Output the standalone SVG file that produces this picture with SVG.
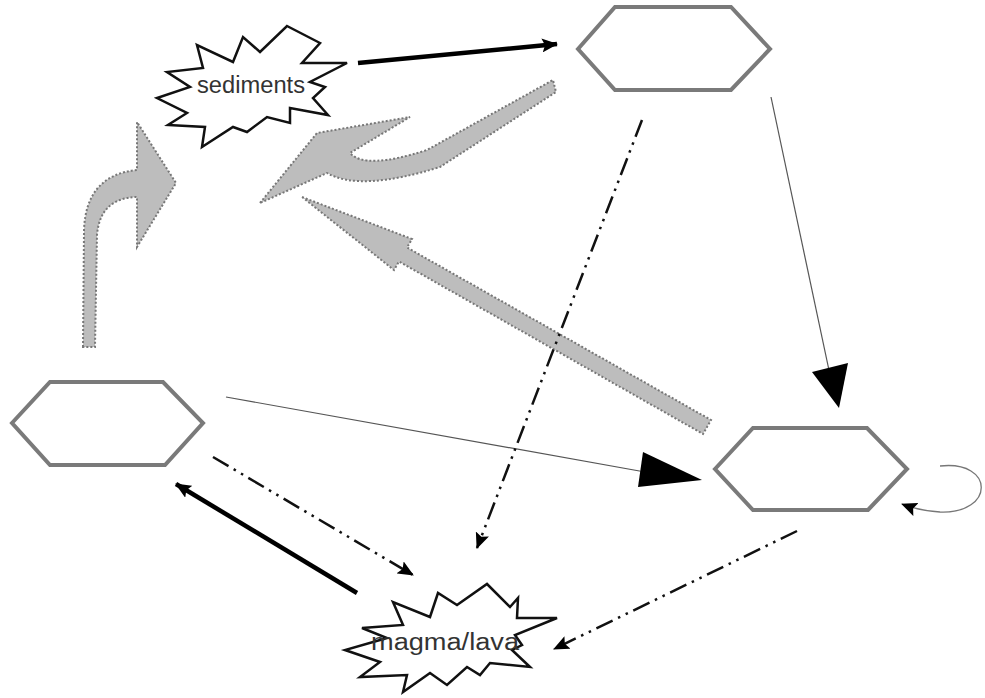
<svg xmlns="http://www.w3.org/2000/svg" width="985" height="698" viewBox="0 0 985 698">
<style>
.hex{fill:#fff;stroke:#7a7a7a;stroke-width:4;stroke-linejoin:miter}
.star{fill:#fff;stroke:#111;stroke-width:2.5;stroke-linejoin:miter}
.lbl{font-family:"Liberation Sans",Arial,sans-serif;font-size:23px;fill:#333;text-anchor:middle}
.thick{stroke:#000;stroke-width:4.5;fill:none}
.thin{stroke:#555;stroke-width:1.2;fill:none}
.dd{stroke:#111;stroke-width:2.5;fill:none;stroke-dasharray:18 6 2.5 6 2.5 6}
.block{fill:#bdbdbd;stroke:#777;stroke-width:2;stroke-dasharray:2 2}
.head{fill:#000}
</style>
<defs>
<marker id="ah" markerUnits="userSpaceOnUse" markerWidth="16" markerHeight="14" refX="15" refY="7" orient="auto"><path d="M0,0 L16,7 L0,14 L3,7 Z" fill="#000"/></marker>
</defs>
<g id="n-sediments">
<polygon class="star" points="287,26 320,43 302,63 347,63 310,82 325,87 313,98 328,115 290,108 290,123 267,117 247,132 233,127 202,147 205,127 168,125 187,113 157,98 190,87 167,72 203,68 197,45 233,62 243,37 260,52"/>
<text class="lbl" x="251" y="93" textLength="108" lengthAdjust="spacingAndGlyphs">sediments</text>
</g>
<g id="n-top">
<polygon class="hex" points="578,49 615,7 731,7 770,49 731,90 615,90"/>
</g>
<g id="n-left">
<polygon class="hex" points="12,423 50,382 163,382 203,423 165,465 50,465"/>
</g>
<g id="n-right">
<polygon class="hex" points="715,469 753,428 867,428 907,469 868,510 753,510"/>
</g>
<g id="n-magma">
<polygon class="star" points="487,584 510,607 518,598 517,618 557,618 515,635 522,645 512,650 530,667 490,663 480,675 467,667 447,685 430,673 403,692 407,675 360,677 380,662 345,650 387,638 362,628 403,625 393,602 430,617 438,593 457,605"/>
<text class="lbl" x="445" y="650" textLength="148" lengthAdjust="spacingAndGlyphs">magma/lava</text>
</g>
<g id="connectors">
<path class="block" d="M83,347 L84,230 Q86,175 137,170 L137,122 L176,183 L137,247 L137,197 Q100,198 97,235 L95,347 Z"/>
<path class="block" d="M260,203 L317,133 L410,117 L350,153 Q365,170 427,150 L553,80 L556,92 L440,167 Q360,192 327,173 Z"/>
<path class="block" d="M302,197 L412,239 L407,247.5 L711,420 L703,434 L399,261.5 L394,270 Z"/>
<line class="thick" x1="358" y1="63" x2="557" y2="44" marker-end="url(#ah)"/>
<line class="thin" x1="771" y1="97" x2="830" y2="375"/>
<polygon class="head" points="812,372 848,363 839,408"/>
<line class="thin" x1="226" y1="397" x2="645" y2="472"/>
<polygon class="head" points="643,452 702,480 638,487"/>
<path d="M940,466 C995,460 995,514 940,512 C925,511 912,508 902,504" stroke="#777" stroke-width="1.3" fill="none" marker-end="url(#ah)"/>
<line class="dd" x1="642" y1="120" x2="477" y2="548" marker-end="url(#ah)"/>
<line class="dd" x1="213" y1="457" x2="413" y2="575" marker-end="url(#ah)"/>
<line class="thick" x1="357" y1="593" x2="176" y2="484" marker-end="url(#ah)"/>
<line class="dd" x1="797" y1="531" x2="554" y2="649" marker-end="url(#ah)"/>
</g>
</svg>
